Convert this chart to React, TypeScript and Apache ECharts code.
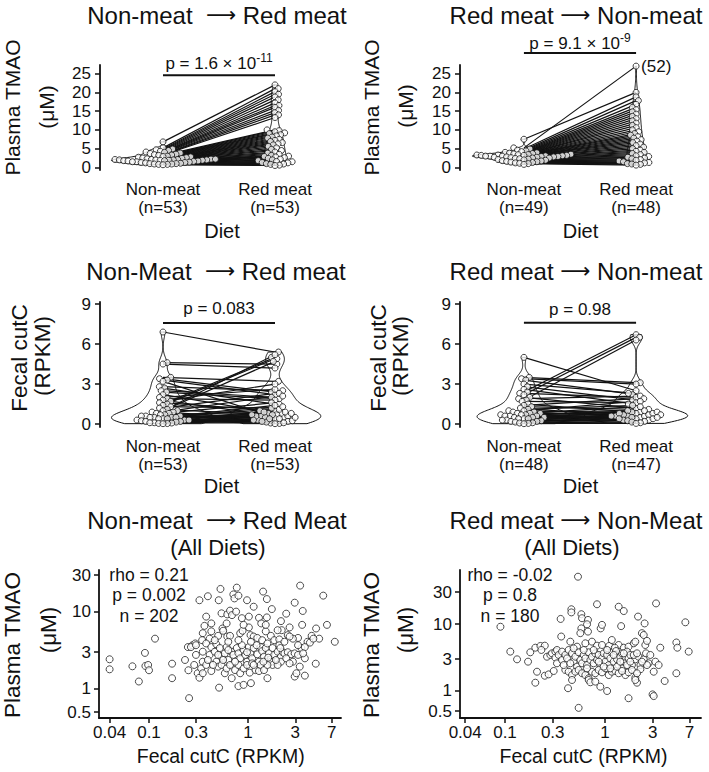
import React, { useEffect, useRef } from "react";
import * as echarts from "echarts";

const FONT = '"Liberation Sans", Arial, Helvetica, sans-serif';
const ARROW_FONT = '"DejaVu Sans", "Liberation Sans", sans-serif';
const INK = "#111111";

// ---------- categories & tick labels ----------
const dietCategories = ["Non-meat", "Red meat"];
const countsTmaoNR = ["(n=53)", "(n=53)"];
const countsTmaoRN = ["(n=49)", "(n=48)"];
const countsCutcNR = ["(n=53)", "(n=53)"];
const countsCutcRN = ["(n=48)", "(n=47)"];

const tmaoTicks = [0, 5, 10, 15, 20, 25];
const cutcTicks = [0, 3, 6, 9];
const fecalTicks = [0.04, 0.1, 0.3, 1, 3, 7];
const plasmaTicksNR = [0.5, 1, 3, 10, 30];
const plasmaTicksRN = [0.5, 1, 3, 10, 30, 50];

// ---------- paired data (index k = same subject) ----------
// Plasma TMAO (uM), Non-meat -> Red meat
const tmaoNR_nonmeat = [6.8, 5.2, 4.9, 4.7, 4.5, 4.3, 4.1, 4.0, 3.8, 3.7, 3.5, 3.4, 3.3, 3.2, 3.0, 2.9, 2.8, 2.7, 2.6, 2.5, 2.4, 2.3, 2.2, 2.2, 2.1, 2.1, 2.1, 2.0, 2.0, 2.0, 2.0, 1.9, 1.9, 1.9, 1.8, 1.8, 1.7, 1.7, 1.6, 1.5, 1.5, 1.4, 1.3, 1.3, 1.2, 1.1, 1.0, 1.0, 0.9, 0.9, 0.8, 0.8, 0.7];
const tmaoNR_redmeat = [22.0, 21.0, 20.2, 19.5, 18.8, 18.0, 17.2, 16.5, 16.0, 15.2, 14.6, 14.0, 13.3, 10.0, 9.8, 9.5, 9.2, 9.0, 8.7, 8.4, 8.1, 7.8, 7.5, 7.2, 6.9, 6.6, 6.3, 6.0, 5.6, 5.2, 4.8, 4.5, 4.1, 3.8, 3.5, 3.2, 3.0, 2.9, 2.8, 2.6, 2.4, 2.2, 2.0, 1.8, 1.6, 1.5, 1.3, 1.2, 1.0, 0.9, 0.8, 0.6, 0.5];

// Plasma TMAO (uM), Red meat -> Non-meat
const tmaoRN_nonmeat = [5.2, 7.5, 4.9, 4.6, 4.4, 4.2, 4.0, 3.9, 3.8, 3.7, 3.6, 3.5, 3.4, 3.4, 3.3, 3.3, 3.2, 3.2, 3.2, 3.1, 3.1, 3.0, 3.0, 3.0, 2.9, 2.9, 2.8, 2.8, 2.7, 2.7, 2.6, 2.5, 2.5, 2.4, 2.3, 2.2, 2.1, 2.0, 1.9, 1.8, 1.7, 1.6, 1.5, 1.4, 1.3, 1.2, 1.1, 1.0, 0.8];
const tmaoRN_redmeat = [27.0, 20.0, 18.8, 17.8, 16.8, 16.0, 15.4, 14.8, 14.2, 13.6, 13.0, 12.4, 11.8, 11.2, 10.6, 10.0, 9.5, 9.0, 8.6, 8.2, 7.8, 7.4, 7.0, 6.6, 6.2, 5.8, 5.4, 5.0, 4.6, 4.3, 4.0, 3.7, 3.4, 3.1, 2.9, 2.7, 2.5, 2.3, 2.1, 1.9, 1.7, 1.5, 1.3, 1.2, 1.0, 0.9, 0.8, 0.6];

// Fecal cutC (RPKM), Non-Meat -> Red meat
const cutcNR_nonmeat = [6.9, 4.6, 4.5, 3.5, 3.4, 3.3, 3.2, 2.8, 2.7, 2.5, 2.4, 2.2, 2.0, 1.9, 1.8, 1.7, 1.6, 1.5, 1.4, 1.3, 1.2, 1.1, 1.0, 1.0, 0.9, 0.9, 0.8, 0.8, 0.7, 0.7, 0.6, 0.6, 0.6, 0.5, 0.5, 0.5, 0.5, 0.4, 0.4, 0.4, 0.3, 0.3, 0.3, 0.25, 0.2, 0.2, 0.15, 0.1, 0.1, 0.08, 0.05, 0.04, 0.03];
const cutcNR_redmeat = [5.4, 4.5, 4.2, 3.2, 2.4, 2.2, 0.5, 2.5, 1.5, 2.0, 1.9, 0.8, 2.6, 1.8, 0.6, 3.0, 1.0, 5.0, 4.9, 1.2, 2.3, 0.7, 5.2, 4.7, 2.1, 0.4, 1.6, 0.2, 0.9, 0.05, 1.1, 0.6, 0.3, 1.4, 0.08, 0.8, 0.5, 1.3, 0.15, 0.7, 0.25, 1.0, 0.03, 0.4, 0.9, 0.6, 0.2, 0.5, 0.8, 0.1, 0.7, 0.3, 0.4];

// Fecal cutC (RPKM), Red meat -> Non-meat
const cutcRN_nonmeat = [5.0, 3.5, 3.4, 3.3, 3.0, 2.8, 2.6, 2.4, 2.3, 2.2, 2.0, 1.9, 1.8, 1.7, 1.5, 1.4, 1.3, 1.2, 1.1, 1.0, 1.0, 0.9, 0.9, 0.8, 0.8, 0.8, 0.7, 0.7, 0.7, 0.6, 0.6, 0.6, 0.5, 0.5, 0.5, 0.4, 0.4, 0.4, 0.3, 0.3, 0.25, 0.2, 0.2, 0.15, 0.1, 0.08, 0.05, 0.03];
const cutcRN_redmeat = [2.5, 3.1, 3.0, 2.2, 2.3, 1.8, 1.5, 6.7, 2.0, 6.5, 1.2, 2.1, 6.3, 1.6, 0.9, 1.9, 1.1, 0.5, 1.4, 0.8, 1.7, 0.6, 1.0, 0.4, 1.3, 0.7, 0.9, 0.3, 1.0, 0.6, 0.8, 0.2, 0.7, 0.5, 0.9, 0.4, 0.6, 0.1, 0.7, 0.3, 0.8, 0.5, 0.25, 0.6, 0.15, 0.4, 0.05];

// ---------- correlation scatter data ----------
const scatterNR_cutc = [
  0.040, 0.040, 0.068, 0.091, 0.092, 0.098, 0.10, 0.079, 0.115, 0.171,
  0.171, 0.231, 0.247, 0.25, 0.254, 0.275, 0.293, 0.323, 0.393, 0.527,
  0.506, 0.77, 0.711, 0.729, 0.80, 0.977, 1.42, 1.55, 3.36, 5.75,
  0.378, 0.426, 0.54, 0.552, 0.617, 0.658, 0.689, 0.867, 1.02, 1.02,
  1.29, 1.36, 1.55, 1.74, 2.15, 2.43, 2.19, 2.96, 2.63, 3.52,
  3.57, 4.87, 6.27, 7.52, 5.23, 4.39, 3.99, 3.20, 2.84, 0.349,
  0.363, 0.344, 0.409, 0.499, 0.561, 0.617, 0.658, 0.834, 0.881, 1.06,
  1.14, 1.24, 1.39, 1.70, 1.84, 2.07, 2.52, 2.63, 3.46, 3.75,
  4.22, 4.57, 0.265, 0.298, 0.349, 0.378, 0.409, 0.426, 0.461, 0.479,
  0.519, 0.54, 0.583, 0.608, 0.632, 0.684, 0.711, 0.77, 0.80, 0.834,
  0.902, 0.939, 0.977, 1.02, 1.06, 1.10, 1.14, 1.24, 1.29, 1.34,
  1.39, 1.45, 1.51, 1.57, 1.63, 1.70, 1.77, 1.84, 1.99, 2.07,
  2.15, 2.24, 2.33, 2.52, 2.73, 2.96, 3.20, 3.33, 3.75, 2.84,
  2.15, 0.286, 0.31, 0.336, 0.349, 0.378, 0.426, 0.479, 0.499, 0.54,
  0.583, 0.608, 0.658, 0.684, 0.74, 0.80, 0.834, 0.902, 0.977, 1.04,
  1.10, 1.19, 1.29, 1.34, 1.45, 1.57, 1.70, 1.77, 1.99, 2.96,
  3.08, 3.75, 4.83, 1.57, 0.51, 0.80, 0.902, 1.07, 0.323, 0.349,
  0.393, 0.443, 0.499, 0.561, 0.632, 0.74, 0.867, 0.977, 1.14, 1.22,
  1.43, 1.60, 1.91, 2.12, 2.43, 2.63, 3.20, 3.60, 0.461, 0.632,
  0.80, 1.51, 1.99, 2.33, 0.426, 1.07, 0.758, 1.14, 0.608, 0.902,
  1.51, 0.298,
];
const scatterNR_tmao = [
  2.43, 1.80, 1.97, 2.94, 1.99, 2.05, 1.75, 1.25, 4.5, 2.13,
  1.38, 2.38, 3.5, 1.75, 0.76, 3.7, 3.9, 14.2, 16.0, 19.9,
  14.2, 20.7, 16.9, 15.0, 16.3, 14.2, 18.4, 14.7, 22.0, 16.3,
  8.7, 7.1, 9.6, 6.1, 9.3, 10.4, 9.1, 8.3, 8.7, 6.3,
  8.4, 7.1, 8.5, 10.9, 7.6, 9.5, 5.8, 13.2, 6.3, 6.8,
  10.3, 6.1, 6.8, 4.1, 4.5, 4.9, 4.1, 4.6, 4.5, 5.3,
  6.6, 4.3, 4.5, 4.9, 5.7, 4.8, 4.9, 5.3, 5.7, 5.0,
  4.8, 4.6, 4.3, 4.9, 4.3, 4.4, 5.0, 4.8, 3.4, 3.5,
  4.0, 4.5, 3.5, 3.7, 3.05, 3.9, 2.77, 3.5, 3.05, 3.8,
  3.4, 2.63, 2.9, 3.5, 2.38, 3.05, 2.77, 3.4, 2.9, 2.5,
  3.2, 2.77, 2.26, 3.5, 2.9, 2.5, 3.4, 2.82, 2.26, 3.5,
  3.1, 2.63, 3.4, 3.9, 2.9, 2.43, 3.4, 2.77, 3.05, 3.7,
  2.63, 3.0, 2.9, 3.0, 2.82, 2.9, 2.77, 1.95, 2.5, 2.26,
  2.26, 2.05, 1.60, 1.85, 2.26, 2.05, 1.71, 2.26, 1.95, 2.05,
  1.60, 1.85, 2.05, 1.38, 1.76, 2.05, 1.60, 1.85, 2.05, 1.63,
  2.15, 1.76, 1.71, 2.05, 1.76, 1.38, 2.26, 2.05, 2.05, 1.45,
  1.60, 1.49, 2.13, 2.05, 1.04, 1.09, 1.13, 1.19, 1.40, 1.60,
  2.38, 2.05, 2.77, 2.38, 3.2, 2.26, 3.7, 3.0, 2.05, 3.7,
  2.26, 2.55, 2.38, 3.4, 2.5, 2.15, 3.7, 2.9, 4.3, 4.1,
  4.3, 5.6, 5.8, 4.1, 5.6, 4.1, 10.1, 11.7, 7.1, 6.8,
  6.8, 2.77,
];

const scatterRN_cutc = [
  0.537, 0.090, 0.113, 0.132, 0.17, 0.179, 0.201, 0.226, 0.25, 0.231,
  0.209, 0.201, 0.25, 0.273, 0.307, 0.263, 0.284, 0.295, 0.319, 0.319,
  0.331, 0.344, 0.331, 0.372, 0.36, 0.365, 0.427, 0.545, 0.461, 0.461,
  0.58, 0.589, 0.676, 0.661, 0.58, 0.567, 0.676, 0.905, 0.933, 0.832,
  1.37, 1.54, 1.45, 2.14, 2.49, 2.34, 2.44, 3.24, 6.36, 0.45,
  0.525, 0.636, 0.741, 0.832, 0.933, 1.10, 1.17, 1.27, 1.37, 1.54,
  1.72, 1.94, 2.01, 2.53, 2.63, 3.57, 5.17, 6.87, 0.372, 0.401,
  0.417, 0.433, 0.468, 0.486, 0.505, 0.525, 0.545, 0.567, 0.589, 0.612,
  0.636, 0.661, 0.687, 0.714, 0.741, 0.770, 0.80, 0.832, 0.865, 0.898,
  0.933, 0.970, 1.01, 1.05, 1.09, 1.13, 1.17, 1.22, 1.27, 1.32,
  1.37, 1.42, 1.48, 1.54, 1.60, 1.66, 1.72, 1.79, 1.86, 2.01,
  2.17, 2.26, 2.44, 2.57, 2.73, 3.07, 0.401, 0.433, 0.468, 0.505,
  0.545, 0.589, 0.636, 0.687, 0.741, 0.80, 0.865, 0.933, 1.01, 1.09,
  1.17, 1.27, 1.37, 1.48, 1.60, 1.72, 1.86, 2.01, 2.09, 2.26,
  2.63, 0.687, 0.714, 0.898, 1.05, 1.72, 2.09, 2.01, 2.99, 3.07,
  3.95, 5.17, 5.29, 1.25, 1.29, 1.48, 0.386, 0.45, 0.486, 0.612,
  0.661, 0.77, 0.865, 0.97, 1.05, 1.13, 1.22, 1.32, 1.42, 1.54,
  1.66, 1.79, 1.94, 2.09, 2.34, 2.84, 3.19, 3.44, 0.468, 0.80,
];
const scatterRN_tmao = [
  50.8, 9.1, 3.87, 2.97, 2.74, 3.78, 4.43, 4.7, 4.75, 4.1,
  1.94, 1.33, 1.69, 1.77, 1.99, 3.25, 3.45, 3.65, 3.87, 3.15,
  4.09, 3.45, 2.59, 2.90, 11.9, 6.5, 1.10, 0.56, 16.6, 14.9,
  14.0, 12.2, 11.5, 9.9, 8.6, 7.3, 7.7, 8.6, 9.7, 19.7,
  18.1, 15.6, 9.3, 12.9, 10.2, 7.3, 6.85, 20.3, 10.6, 5.45,
  4.59, 5.15, 5.45, 4.75, 4.86, 4.7, 5.77, 4.33, 4.86, 4.43,
  4.59, 5.15, 5.45, 4.86, 5.6, 4.43, 5.3, 3.87, 3.87, 3.45,
  3.07, 4.09, 3.65, 2.74, 3.25, 2.31, 3.78, 2.90, 2.59, 3.45,
  3.07, 2.44, 3.78, 2.90, 3.25, 2.59, 3.65, 2.90, 3.45, 2.44,
  3.07, 3.65, 2.74, 3.45, 2.44, 3.07, 3.78, 2.74, 3.45, 2.97,
  2.44, 3.25, 3.65, 2.74, 3.25, 3.87, 3.07, 3.45, 2.44, 2.97,
  3.25, 2.44, 2.97, 3.65, 2.59, 1.94, 2.06, 1.94, 1.73, 1.94,
  2.06, 1.84, 1.73, 1.55, 1.94, 1.84, 2.06, 1.90, 2.18, 1.73,
  1.94, 1.99, 1.84, 2.18, 1.73, 1.90, 2.06, 1.58, 1.33, 2.11,
  2.44, 1.46, 1.35, 1.16, 1.0, 0.78, 1.84, 1.46, 0.89, 0.84,
  1.41, 1.84, 4.43, 4.43, 3.95, 1.99, 2.44, 2.59, 4.33, 4.09,
  2.18, 4.09, 2.74, 2.31, 4.09, 2.18, 3.45, 2.31, 2.74, 3.65,
  2.44, 2.74, 3.45, 3.65, 2.74, 3.45, 2.74, 2.44, 1.46, 1.38,
];

// ---------- layout (positions/sizes only) ----------
const DOT = 6;          // marker diameter
const SWARM_GAP = 4.4;  // beeswarm spacing (markers overlap slightly, as in the figure)
const VIOLIN_HALF = 0.46;

const violinPanels = [
  {
    grid: { left: 100, top: 65, width: 238, height: 105 },
    xMin: 0.4375, xMax: 2.5625, yMin: -0.7, yMax: 27.3, ticks: tmaoTicks,
    counts: countsTmaoNR, nonmeat: tmaoNR_nonmeat, redmeat: tmaoNR_redmeat,
    bar: { y: 24.6, labelY: 28.1, main: "p = 1.6 × 10", sup: "-11" },
    note: null,
  },
  {
    grid: { left: 460, top: 65, width: 240, height: 105 },
    xMin: 0.43, xMax: 2.57, yMin: -0.7, yMax: 27.3, ticks: tmaoTicks,
    counts: countsTmaoRN, nonmeat: tmaoRN_nonmeat, redmeat: tmaoRN_redmeat,
    bar: { y: 30.5, labelY: 33.4, main: "p = 9.1 × 10", sup: "-9" },
    note: { text: "(52)", x: 2, y: 27.0 },
  },
  {
    grid: { left: 100, top: 302, width: 238, height: 125 },
    xMin: 0.4375, xMax: 2.5625, yMin: -0.22, yMax: 9.15, ticks: cutcTicks,
    counts: countsCutcNR, nonmeat: cutcNR_nonmeat, redmeat: cutcNR_redmeat,
    bar: { y: 7.57, labelY: 8.77, main: "p = 0.083", sup: "" },
    note: null,
  },
  {
    grid: { left: 460, top: 302, width: 240, height: 125 },
    xMin: 0.43, xMax: 2.57, yMin: -0.22, yMax: 9.15, ticks: cutcTicks,
    counts: countsCutcRN, nonmeat: cutcRN_nonmeat, redmeat: cutcRN_redmeat,
    bar: { y: 7.6, labelY: 8.7, main: "p = 0.98", sup: "" },
    note: null,
  },
];

const scatterPanels = [
  {
    grid: { left: 99, top: 570, width: 242, height: 148 },
    xMin: -1.505, xMax: 0.939, yMin: -0.377, yMax: 1.545,
    yTicks: plasmaTicksNR, cutc: scatterNR_cutc, tmao: scatterNR_tmao,
  },
  {
    grid: { left: 460, top: 570, width: 241, height: 148 },
    xMin: -1.45, xMax: 0.96, yMin: -0.403, yMax: 1.806,
    yTicks: plasmaTicksRN, cutc: scatterRN_cutc, tmao: scatterRN_tmao,
  },
];

// ---------- helpers ----------
function kdeProfile(vals: number[], n = 120) {
  const N = vals.length;
  const s = [...vals].sort((a, b) => a - b);
  const mean = vals.reduce((a, b) => a + b, 0) / N;
  const sd = Math.sqrt(vals.reduce((a, b) => a + (b - mean) * (b - mean), 0) / (N - 1));
  const q = (p: number) => {
    const h = (N - 1) * p;
    const lo = Math.floor(h);
    const hi = Math.min(lo + 1, N - 1);
    return s[lo] + (h - lo) * (s[hi] - s[lo]);
  };
  const iqr = q(0.75) - q(0.25);
  let lo = Math.min(sd, iqr / 1.34);
  if (!(lo > 0)) lo = sd || 1;
  const bw = 0.9 * lo * Math.pow(N, -0.2);
  const out: { y: number; d: number }[] = [];
  for (let k = 0; k < n; k++) {
    const y = s[0] + ((s[N - 1] - s[0]) * k) / (n - 1);
    let d = 0;
    for (const v of vals) {
      const z = (y - v) / bw;
      d += Math.exp(-0.5 * z * z);
    }
    d /= N * bw * Math.sqrt(2 * Math.PI);
    out.push({ y, d });
  }
  return out;
}

// beeswarm: returns horizontal pixel offsets
function swarm(vals: number[], ky: number, d: number) {
  const order = vals.map((_, i) => i).sort((a, b) => vals[a] - vals[b]);
  const placed: { x: number; y: number }[] = [];
  const off = new Array(vals.length).fill(0);
  for (const i of order) {
    const y = vals[i] * ky;
    const near = placed.filter((p) => Math.abs(p.y - y) < d);
    const cands = [0];
    for (const p of near) {
      const dx = Math.sqrt(d * d - (p.y - y) * (p.y - y));
      cands.push(p.x + dx, p.x - dx);
    }
    cands.sort((a, b) => Math.abs(a) - Math.abs(b) || b - a);
    let best = 0;
    for (const c of cands) {
      if (near.every((p) => (p.x - c) * (p.x - c) + (p.y - y) * (p.y - y) >= d * d - 1e-6)) {
        best = c;
        break;
      }
    }
    placed.push({ x: best, y });
    off[i] = best;
  }
  return off;
}

function tickLabel(ticks: number[], v: number) {
  let best = ticks[0];
  for (const t of ticks) if (Math.abs(Math.log10(t) - v) < Math.abs(Math.log10(best) - v)) best = t;
  return String(best);
}

const axisLineStyle = { color: INK, width: 1.8 };
const tickLineStyle = { color: INK, width: 1.5 };

function gtext(text: string, x: number, y: number, fontSize: number, rotate = false) {
  return {
    type: "text",
    x,
    y,
    rotation: rotate ? Math.PI / 2 : 0,
    silent: true,
    style: {
      text,
      fontSize,
      fontFamily: FONT,
      fill: INK,
      align: "center",
      verticalAlign: "middle",
      textAlign: "center",
      textVerticalAlign: "middle",
    },
  };
}

// panel title "A -> B" with a long thin arrow
function gtitle(from: string, to: string, x: number, y: number, lead: string) {
  return {
    type: "text",
    x,
    y,
    silent: true,
    style: {
      text: "{t|" + from + "}{a|" + lead + "⟶ }{t|" + to + "}",
      fontSize: 24,
      fontFamily: FONT,
      fill: INK,
      align: "center",
      verticalAlign: "middle",
      textAlign: "center",
      textVerticalAlign: "middle",
      rich: {
        t: { fontSize: 24, fontFamily: FONT, fill: INK, color: INK, lineHeight: 28, verticalAlign: "middle" },
        a: { fontSize: 21, fontFamily: ARROW_FONT, fill: INK, color: INK, lineHeight: 28, verticalAlign: "middle" },
      },
    },
  };
}

function buildOption() {
  const grids: any[] = [];
  const xAxes: any[] = [];
  const yAxes: any[] = [];
  const series: any[] = [];

  violinPanels.forEach((P, i) => {
    grids.push({ ...P.grid, outerBoundsMode: "none", containLabel: false });
    const kx = P.grid.width / (P.xMax - P.xMin);
    const ky = P.grid.height / (P.yMax - P.yMin);
    xAxes.push({
      gridIndex: i, type: "value", min: P.xMin, max: P.xMax,
      axisLine: { show: false, onZero: false }, axisTick: { show: false }, splitLine: { show: false },
      axisLabel: {
        customValues: [1, 2],
        formatter: (v: number) => {
          const k = Math.round(v) - 1;
          return dietCategories[k] + "\n" + P.counts[k];
        },
        fontSize: 17, lineHeight: 18, color: INK, fontFamily: FONT, margin: 10,
      },
    });
    yAxes.push({
      gridIndex: i, type: "value", min: P.yMin, max: P.yMax,
      axisLine: { show: true, onZero: false, lineStyle: axisLineStyle },
      axisTick: { show: true, customValues: P.ticks, length: 5, lineStyle: tickLineStyle },
      axisLabel: { customValues: P.ticks, fontSize: 17, color: INK, fontFamily: FONT, margin: 9 },
      splitLine: { show: false },
    });

    const profN = kdeProfile(P.nonmeat);
    const profR = kdeProfile(P.redmeat);
    const maxD = Math.max(...profN.map((p) => p.d), ...profR.map((p) => p.d));
    const profiles = [profN, profR].map((pr) => pr.map((p) => ({ y: p.y, w: (VIOLIN_HALF * p.d) / maxD })));

    series.push({
      type: "custom", coordinateSystem: "cartesian2d", xAxisIndex: i, yAxisIndex: i, clip: false, silent: true,
      data: [[1, 0], [2, 0]],
      renderItem: (params: any, api: any) => {
        const c = params.dataIndex + 1;
        const prof = profiles[params.dataIndex];
        const right = prof.map((p) => api.coord([c + p.w, p.y]));
        const left = prof.slice().reverse().map((p) => api.coord([c - p.w, p.y]));
        return {
          type: "polygon",
          shape: { points: right.concat(left) },
          style: { fill: "#ffffff", stroke: INK, lineWidth: 1 },
        };
      },
    });

    const m = Math.min(P.nonmeat.length, P.redmeat.length);
    const pairs = P.nonmeat.slice(0, m).map((a, k) => [a, P.redmeat[k]]);
    series.push({
      type: "custom", coordinateSystem: "cartesian2d", xAxisIndex: i, yAxisIndex: i, clip: false, silent: true,
      data: pairs,
      renderItem: (params: any, api: any) => {
        const p1 = api.coord([1, api.value(0)]);
        const p2 = api.coord([2, api.value(1)]);
        return {
          type: "line",
          shape: { x1: p1[0], y1: p1[1], x2: p2[0], y2: p2[1] },
          style: { stroke: "#121212", lineWidth: 1.2 },
        };
      },
    });

    const offN = swarm(P.nonmeat, ky, SWARM_GAP);
    const offR = swarm(P.redmeat, ky, SWARM_GAP);
    const pts = [
      ...P.nonmeat.map((v, k) => [1 + offN[k] / kx, v]),
      ...P.redmeat.map((v, k) => [2 + offR[k] / kx, v]),
    ];
    series.push({
      type: "scatter", xAxisIndex: i, yAxisIndex: i, silent: true, clip: false,
      symbol: "circle", symbolSize: DOT, data: pts,
      itemStyle: { color: "#ffffff", borderColor: INK, borderWidth: 1 },
    });

    const bar = P.bar;
    const note = P.note;
    series.push({
      type: "custom", coordinateSystem: "cartesian2d", xAxisIndex: i, yAxisIndex: i, clip: false, silent: true,
      data: [[1.5, bar.y]],
      z: 5,
      renderItem: (params: any, api: any) => {
        const a = api.coord([1, bar.y]);
        const b = api.coord([2, bar.y]);
        const lp = api.coord([1.5, bar.labelY]);
        const children: any[] = [
          { type: "line", shape: { x1: a[0], y1: a[1], x2: b[0], y2: b[1] }, style: { stroke: INK, lineWidth: 2 } },
          {
            type: "text", x: lp[0], y: lp[1],
            style: {
              text: bar.sup ? "{m|" + bar.main + "}{s|" + bar.sup + "}" : "{m|" + bar.main + "}",
              align: "center", verticalAlign: "middle", textAlign: "center", textVerticalAlign: "middle",
              rich: {
                m: { fontSize: 17, fontFamily: FONT, fill: INK, color: INK, lineHeight: 20, verticalAlign: "bottom" },
                s: { fontSize: 12, fontFamily: FONT, fill: INK, color: INK, lineHeight: 12, verticalAlign: "top" },
              },
            },
          },
        ];
        if (note) {
          const np = api.coord([note.x, note.y]);
          children.push({
            type: "text", x: np[0] + 5, y: np[1],
            style: {
              text: note.text, fontSize: 17, fontFamily: FONT, fill: INK,
              align: "left", verticalAlign: "middle", textAlign: "left", textVerticalAlign: "middle",
            },
          });
        }
        return { type: "group", children };
      },
    });
  });

  scatterPanels.forEach((P, j) => {
    const i = violinPanels.length + j;
    grids.push({ ...P.grid, outerBoundsMode: "none", containLabel: false });
    const xt = fecalTicks.map((t) => Math.log10(t));
    const yt = P.yTicks.map((t) => Math.log10(t));
    xAxes.push({
      gridIndex: i, type: "value", min: P.xMin, max: P.xMax,
      axisLine: { show: true, onZero: false, lineStyle: axisLineStyle },
      axisTick: { show: true, customValues: xt, length: 5, lineStyle: tickLineStyle },
      axisLabel: {
        customValues: xt, formatter: (v: number) => tickLabel(fecalTicks, v),
        fontSize: 17, lineHeight: 17, color: INK, fontFamily: FONT, margin: 6,
      },
      splitLine: { show: false },
    });
    yAxes.push({
      gridIndex: i, type: "value", min: P.yMin, max: P.yMax,
      axisLine: { show: true, onZero: false, lineStyle: axisLineStyle },
      axisTick: { show: true, customValues: yt, length: 5, lineStyle: tickLineStyle },
      axisLabel: {
        customValues: yt, formatter: (v: number) => tickLabel(P.yTicks, v),
        fontSize: 17, color: INK, fontFamily: FONT, margin: 8,
      },
      splitLine: { show: false },
    });
    series.push({
      type: "scatter", xAxisIndex: i, yAxisIndex: i, silent: true, clip: false,
      symbol: "circle", symbolSize: 7,
      data: P.cutc.map((c, k) => [Math.log10(c), Math.log10(P.tmao[k])]),
      itemStyle: { color: "#ffffff", borderColor: "#222222", borderWidth: 1 },
    });
  });

  const graphic: any[] = [
    // panel titles
    gtitle("Non-meat", "Red meat", 217, 15, "  "),
    gtitle("Red meat", "Non-meat", 576, 15, " "),
    gtitle("Non-Meat", "Red meat", 216, 271, "  "),
    gtitle("Red meat", "Non-meat", 576, 271, " "),
    gtitle("Non-meat", "Red Meat", 217, 520, "  "),
    gtext("(All Diets)", 218, 547, 22),
    gtitle("Red meat", "Non-Meat", 576, 520, " "),
    gtext("(All Diets)", 572, 547, 22),
    // y-axis titles
    gtext("Plasma TMAO", 12.5, 107.5, 21, true),
    gtext("(μM)", 46.5, 107, 21, true),
    gtext("Plasma TMAO", 371.5, 107.5, 21, true),
    gtext("(μM)", 405.5, 106, 21, true),
    gtext("Fecal cutC", 19, 358, 22.5, true),
    gtext("(RPKM)", 42.5, 356, 22.5, true),
    gtext("Fecal cutC", 378, 358, 22.5, true),
    gtext("(RPKM)", 400.5, 356, 22.5, true),
    gtext("Plasma TMAO", 12.5, 645, 22.5, true),
    gtext("(μM)", 48, 630, 22.5, true),
    gtext("Plasma TMAO", 371.5, 645, 22.5, true),
    gtext("(μM)", 405, 630, 22.5, true),
    // x-axis titles
    gtext("Diet", 222, 231, 20),
    gtext("Diet", 580.5, 231, 20),
    gtext("Diet", 221.5, 486, 20),
    gtext("Diet", 580.5, 486, 20),
    gtext("Fecal cutC (RPKM)", 220.7, 756, 19.5),
    gtext("Fecal cutC (RPKM)", 583.5, 756, 19.5),
    // correlation stats
    gtext("rho = 0.21", 149, 575, 17.5),
    gtext("p = 0.002", 149, 595, 17.5),
    gtext("n = 202", 149, 615.5, 17.5),
    gtext("rho = -0.02", 510, 575, 17.5),
    gtext("p = 0.8", 510, 595, 17.5),
    gtext("n = 180", 510, 616, 17.5),
  ];

  return {
    animation: false,
    backgroundColor: "#ffffff",
    textStyle: { fontFamily: FONT, color: INK },
    grid: grids,
    xAxis: xAxes,
    yAxis: yAxes,
    series,
    graphic,
  };
}

export default function App() {
  const ref = useRef<HTMLDivElement>(null);
  useEffect(() => {
    if (!ref.current) return;
    const chart = echarts.init(ref.current, null, { renderer: "svg" });
    chart.setOption(buildOption() as any);
    return () => chart.dispose();
  }, []);
  return (
    <div
      ref={ref}
      style={{ position: "absolute", left: 0, top: 0, width: 709, height: 772, background: "#ffffff" }}
    />
  );
}
